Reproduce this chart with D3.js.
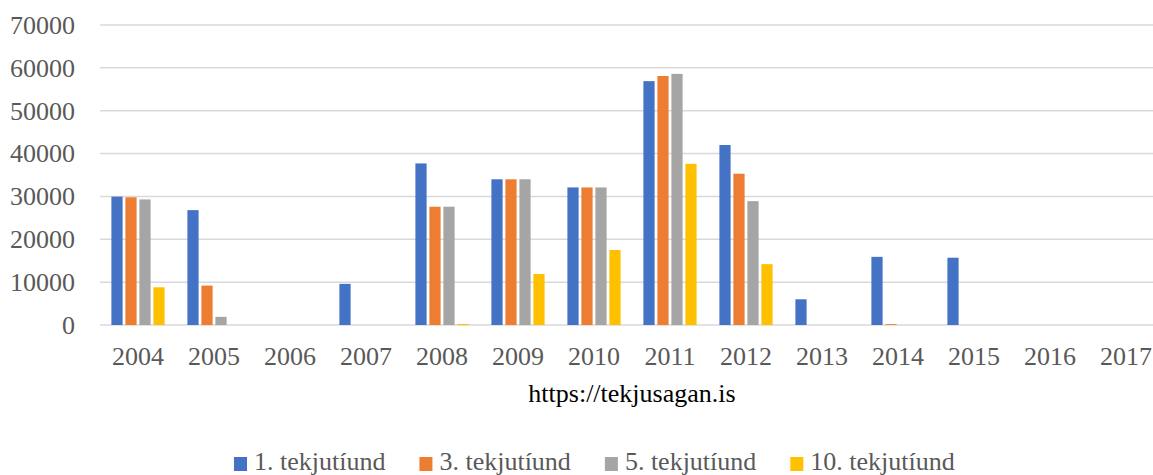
<!DOCTYPE html>
<html>
<head>
<meta charset="utf-8">
<script src="https://cdn.jsdelivr.net/npm/d3@7"></script>
<style>
	body { margin: 0; background: #fff; }
	svg { display: block; }
	svg text { font-family: 'Liberation Serif', 'Times New Roman', serif; }
</style>
</head>
<body>
<script>
const years = ['2004', '2005', '2006', '2007', '2008', '2009', '2010', '2011', '2012', '2013', '2014', '2015', '2016', '2017'];
const seriesNames = ['1. tekjutíund', '3. tekjutíund', '5. tekjutíund', '10. tekjutíund'];
const decile1 = [29950, 26800, 0, 9600, 37700, 34000, 32100, 56900, 42000, 6000, 15900, 15700, 0, 0];
const decile3 = [29800, 9200, 0, 0, 27600, 34000, 32100, 58100, 35300, 0, 200, 0, 0, 0];
const decile5 = [29300, 1900, 0, 0, 27600, 34000, 32100, 58600, 28900, 0, 0, 0, 0, 0];
const decile10 = [8800, 0, 0, 0, 250, 11900, 17500, 37600, 14200, 0, 0, 0, 0, 0];
const yTicks = [0, 10000, 20000, 30000, 40000, 50000, 60000, 70000];
const colors = ['#4472C4', '#ED7D31', '#A5A5A5', '#FFC000'];
const sourceText = 'https://tekjusagan.is';

const w = 1153;
const h = 475;
const margin = { top: 25, left: 100, right: -11, bottom: 150 };
const serif = "'Liberation Serif', 'Times New Roman', serif";

const data = years.map(function(y, i) {
	return { year: y, values: [decile1[i], decile3[i], decile5[i], decile10[i]] };
});

const svg = d3.select('body').append('svg').attr('width', w).attr('height', h);

let x0 = d3
	.scaleBand()
	.domain(years)
	.range([ margin.left, w - margin.right ])
	.paddingInner(0.3)
	.paddingOuter(0.15);

let x1 = d3
	.scaleBand()
	.domain(seriesNames)
	.range([ 0, x0.bandwidth() ])
	.paddingInner(0.2);

let y = d3.scaleLinear().domain([ 0, 70000 ]).range([ h - margin.bottom, margin.top ]);

// gridlines
svg
	.append('g')
	.selectAll('line')
	.data(yTicks)
	.enter()
	.append('line')
	.attr('x1', margin.left)
	.attr('x2', w)
	.attr('y1', function(d) { return y(d); })
	.attr('y2', function(d) { return y(d); })
	.attr('stroke', '#d9d9d9')
	.attr('stroke-width', 1.5);

// y labels
const yAxis = d3.axisLeft(y).tickValues(yTicks).tickSize(0).tickPadding(0).tickFormat(d3.format('d'));
const gy = svg.append('g').attr('transform', 'translate(75,0)').call(yAxis).attr('font-family', null);
gy.select('.domain').remove();
gy.selectAll('text').attr('font-size', 26).attr('fill', '#595959').style('font-family', serif);

// bars
const groups = svg
	.append('g')
	.selectAll('g')
	.data(data)
	.enter()
	.append('g')
	.attr('transform', function(d) { return 'translate(' + x0(d.year) + ',0)'; });

groups
	.selectAll('rect')
	.data(function(d) {
		return d.values.map(function(v, i) { return { key: seriesNames[i], value: v, idx: i }; });
	})
	.enter()
	.append('rect')
	.attr('x', function(d) { return x1(d.key); })
	.attr('width', x1.bandwidth())
	.attr('y', function(d) { return y(d.value); })
	.attr('height', function(d) { return y(0) - y(d.value); })
	.attr('fill', function(d) { return colors[d.idx]; });

// x labels
const xAxis = d3.axisBottom(x0).tickSize(0).tickPadding(0);
const gx = svg.append('g').attr('transform', 'translate(0,' + (y(0) + 40) + ')').call(xAxis).attr('font-family', null);
gx.select('.domain').remove();
gx.selectAll('text').attr('font-size', 26).attr('fill', '#595959').attr('dy', 0).style('font-family', serif);

// source title
svg
	.append('text')
	.attr('x', 632)
	.attr('y', 402)
	.attr('text-anchor', 'middle')
	.attr('font-size', 26)
	.attr('fill', '#000')
	.style('font-family', serif)
	.text(sourceText);

// legend
const legend = svg.append('g').attr('transform', 'translate(234,0)');
let lx = 0;
seriesNames.forEach(function(name, i) {
	legend
		.append('rect')
		.attr('x', lx)
		.attr('y', 457)
		.attr('width', 13)
		.attr('height', 14)
		.attr('fill', colors[i]);
	const t = legend
		.append('text')
		.attr('x', lx + 20)
		.attr('y', 470)
		.attr('font-size', 26)
		.attr('fill', '#595959')
		.style('font-family', serif)
		.text(name);
	lx += 20 + t.node().getComputedTextLength() + 34;
});
</script>
</body>
</html>
